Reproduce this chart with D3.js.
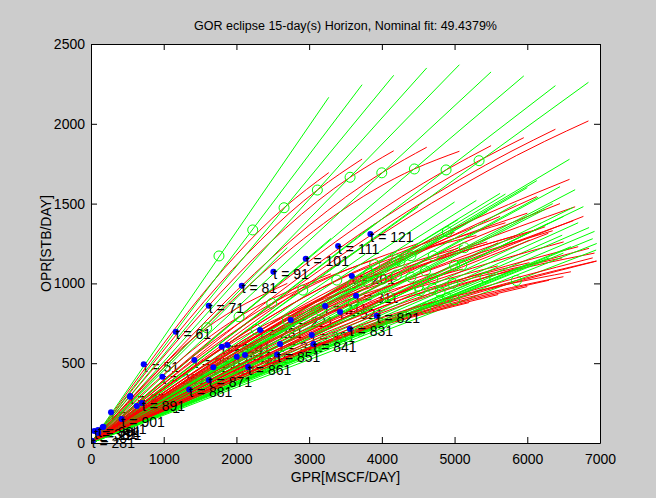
<!DOCTYPE html>
<html>
<head>
<meta charset="utf-8">
<script src="https://cdn.jsdelivr.net/npm/d3@7"></script>
<style>
  body { margin: 0; background: #cccccc; }
  svg { display: block; font-family: 'Liberation Sans', Arial, sans-serif; }
</style>
</head>
<body>
<svg id="chart" width="656" height="498"></svg>
<script>
// eclipse curves: end GPR, green (linear) end OPR, red (eclipse) end OPR,
// and the nominal point (green circle) on each one
const endGpr = [
  3270, 3728, 4163, 4617, 5066, 5502, 5952, 6387, 6841,
  2700, 3300, 3900, 4500, 5000, 5626, 6131, 6450, 6658,
  3775, 4205, 4655, 5113, 5595, 6030, 6480, 6925, 6947,
  5300, 5700, 6000, 6245, 6290, 6581, 6634, 6772,
  5050, 5450, 5850, 6150, 6350, 6500, 6700, 6850, 6900, 6955,
  5200, 5600, 6000, 6300, 6497, 6600
];
const greenEndOpr = [
  2166, 2245, 2304, 2350, 2370, 2325, 2300, 2239, 2260,
  1225, 1282, 1373, 1480, 1510, 1564, 1644, 1606, 1587,
  1184, 1199, 1227, 1240, 1254, 1272, 1302, 1326, 1209,
  1520, 1560, 1600, 1464, 1376, 1778, 1477, 1481,
  1400, 1450, 1500, 1540, 1500, 1420, 1380, 1350, 1280, 1250,
  1000, 1060, 1120, 1160, 1190, 1230
];
const redEndOpr = [
  1694, 1779, 1831, 1853, 1828, 1863, 1913, 1966, 2018,
  1000, 1060, 1150, 1250, 1320, 1420, 1544, 1500, 1480,
  1000, 1030, 1060, 1090, 1110, 1130, 1160, 1190, 1140,
  1300, 1380, 1440, 1355, 1314, 1652, 1393, 1420,
  1220, 1260, 1300, 1340, 1330, 1260, 1230, 1220, 1160, 1140,
  880, 930, 980, 1020, 1042, 1073
];
const nominalGpr = [
  1760, 2224, 2655, 3113, 3563, 3999, 4447, 4883, 5337,
  1591, 2036, 2486, 2912, 3380, 3820, 4250, 4706, 5135,
  2270, 2700, 3150, 3608, 4090, 4525, 4975, 5420, 5850,
  3900, 4200, 4400, 4600, 4700, 4900, 5000, 5100,
  3600, 3800, 4000, 4200, 4400, 4500, 4700, 4800, 4900, 5000,
  3400, 3700, 4000, 4300, 4600, 4800
];
const nominalOpr = [
  1172, 1335, 1474, 1585, 1665, 1693, 1717, 1711, 1769,
  722, 791, 875, 958, 1021, 1062, 1140, 1172, 1224,
  712, 770, 830, 875, 917, 954, 1000, 1038, 1018,
  1118, 1149, 1173, 1078, 1028, 1324, 1113, 1115,
  998, 1011, 1026, 1052, 1039, 983, 968, 946, 909, 899,
  654, 700, 747, 792, 843, 895
];
// the first nine red curves bend through a later nominal point
const redMidGpr = [2655, 3113, 3563, 3999, 4447, 4883, 5337, 5790, 6240];
const redMidOpr = [1474, 1585, 1665, 1693, 1717, 1711, 1769, 1830, 1890];

// measured operating points (blue dots) and their time labels
const times = [
  1, 11, 21, 31, 41, 51, 61, 71, 81, 91, 101, 111, 121,
  201, 211, 221, 231, 241, 251, 261, 271, 281, 291, 301, 311, 331, 341,
  351, 361, 371, 381, 391, 401, 411, 521,
  821, 831, 841, 851, 861, 871, 881, 891, 901
];
const dotGpr = [
  23, 92, 161, 275, 541, 725, 1165, 1619, 2073, 2508, 2953, 3398, 3842,
  3586, 3219, 2747, 2325, 1875, 1421, 981, 536, 10, 100, 169, 3645, 3036, 2600,
  2118, 1798, 629, 45, 95, 1682, 2004, 3425,
  3930, 3560, 3058, 2560, 2160, 1620, 1350, 700, 420
];
const dotOpr = [
  8, 65, 98, 192, 294, 493, 697, 860, 985, 1073, 1155, 1234, 1309,
  1046, 858, 771, 708, 614, 520, 415, 290, 14, 65, 102, 923, 677, 620,
  551, 603, 232, 75, 82, 474, 541, 821,
  797, 715, 620, 555, 476, 395, 335, 250, 150
];
// labels that stay readable on top of the curves
const topLabels = [61, 71, 81, 91, 101, 111, 121, 281, 381, 391,
  821, 831, 841, 851, 861, 871, 881, 891, 901];

const plot = { left: 91, top: 44, right: 600, bottom: 443 };

const svg = d3.select('#chart');

const x = d3.scaleLinear().domain([0, 7000]).range([plot.left, plot.right]);
const y = d3.scaleLinear().domain([0, 2500]).range([plot.bottom, plot.top]);

// plot area
svg.append('rect')
  .attr('x', plot.left)
  .attr('y', plot.top)
  .attr('width', plot.right - plot.left)
  .attr('height', plot.bottom - plot.top)
  .attr('fill', '#fff');

const eclipses = endGpr.map((e, i) => ({
  end: e,
  green: greenEndOpr[i],
  red: redEndOpr[i],
  nx: nominalGpr[i],
  ny: nominalOpr[i],
  mx: i < redMidGpr.length ? redMidGpr[i] : nominalGpr[i],
  my: i < redMidOpr.length ? redMidOpr[i] : nominalOpr[i]
}));

const dots = times.map((t, i) => ({ t: t, gx: dotGpr[i], gy: dotOpr[i] }));

const hidden = dots.filter((d) => !topLabels.includes(d.t));
const shown = dots.filter((d) => topLabels.includes(d.t));

const labels = (sel, data) => {
  sel.selectAll(null)
    .data(data)
    .enter()
    .append('text')
    .attr('x', (d) => x(d.gx))
    .attr('y', (d) => y(d.gy) + 7.5)
    .attr('font-size', 14)
    .attr('fill', '#000')
    .text((d) => `t = ${d.t}`);
};

svg.append('clipPath')
  .attr('id', 'clip')
  .append('rect')
  .attr('x', plot.left)
  .attr('y', plot.top)
  .attr('width', plot.right - plot.left)
  .attr('height', plot.bottom - plot.top);

const graph = svg.append('g')
  .attr('clip-path', 'url(#clip)');

labels(graph, hidden);

const redLine = d3.line()
  .x((p) => x(p[0]))
  .y((p) => y(p[1]))
  .curve(d3.curveMonotoneX);

eclipses.forEach((d) => {
  graph.append('path')
    .attr('d', redLine([[0, 0], [d.mx, d.my], [d.end, d.red]]))
    .attr('fill', 'none')
    .attr('stroke', '#ff0000')
    .attr('stroke-width', 1);

  graph.append('line')
    .attr('x1', x(0))
    .attr('y1', y(0))
    .attr('x2', x(d.end))
    .attr('y2', y(d.green))
    .attr('stroke', '#00ff00')
    .attr('stroke-width', 1);
});

graph.selectAll('.nominal')
  .data(eclipses)
  .enter()
  .append('circle')
  .attr('class', 'nominal')
  .attr('cx', (d) => x(d.nx))
  .attr('cy', (d) => y(d.ny))
  .attr('r', 5)
  .attr('fill', 'none')
  .attr('stroke', '#00ff00')
  .attr('stroke-width', 1);

graph.selectAll('.dot')
  .data(dots)
  .enter()
  .append('circle')
  .attr('class', 'dot')
  .attr('cx', (d) => x(d.gx))
  .attr('cy', (d) => y(d.gy))
  .attr('r', 3)
  .attr('fill', '#0000ff');

labels(svg, shown);

// axes, ticks inside on all four sides
const xAxis = d3.axisBottom(x).tickValues(d3.range(0, 7001, 1000))
  .tickFormat(d3.format('d')).tickSize(-6).tickSizeOuter(0).tickPadding(11);
const yAxis = d3.axisLeft(y).tickValues(d3.range(0, 2501, 500))
  .tickFormat(d3.format('d')).tickSize(-6).tickSizeOuter(0).tickPadding(6);

const styleAxis = (g) => {
  g.select('.domain').attr('stroke', '#000');
  g.selectAll('.tick line').attr('stroke', '#000');
  g.selectAll('text')
    .attr('font-size', 14)
    .attr('fill', '#000')
    .attr('font-family', 'Liberation Sans, Arial, sans-serif');
};

svg.append('g')
  .attr('transform', `translate(0, ${plot.bottom})`)
  .call(xAxis)
  .call(styleAxis);

svg.append('g')
  .attr('transform', `translate(${plot.left}, 0)`)
  .call(yAxis)
  .call(styleAxis);

svg.append('g')
  .attr('transform', `translate(0, ${plot.top})`)
  .call(d3.axisTop(x).tickValues(d3.range(0, 7001, 1000))
    .tickSize(-6).tickSizeOuter(0).tickFormat(''))
  .call(styleAxis);

svg.append('g')
  .attr('transform', `translate(${plot.right}, 0)`)
  .call(d3.axisRight(y).tickValues(d3.range(0, 2501, 500))
    .tickSize(-6).tickSizeOuter(0).tickFormat(''))
  .call(styleAxis);

// titles
svg.append('text')
  .attr('x', (plot.left + plot.right) / 2)
  .attr('y', 30)
  .attr('text-anchor', 'middle')
  .attr('font-size', 12.5)
  .text('GOR eclipse 15-day(s) Horizon, Nominal fit: 49.4379%');

svg.append('text')
  .attr('x', (plot.left + plot.right) / 2)
  .attr('y', 482)
  .attr('text-anchor', 'middle')
  .attr('font-size', 14)
  .text('GPR[MSCF/DAY]');

svg.append('text')
  .attr('transform', `translate(51, ${(plot.top + plot.bottom) / 2}) rotate(-90)`)
  .attr('text-anchor', 'middle')
  .attr('font-size', 14)
  .text('OPR[STB/DAY]');
</script>
</body>
</html>
